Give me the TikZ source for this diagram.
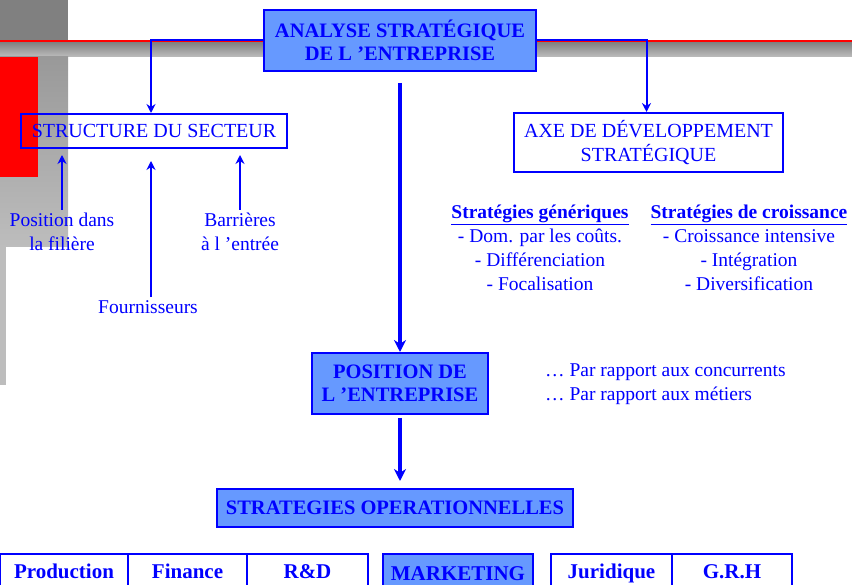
\documentclass[tikz,border=0pt]{standalone}
\usepackage{fontspec}
\setmainfont{Liberation Serif}
\usepackage{xcolor}
\definecolor{linkblue}{HTML}{0000FF}
\definecolor{boxfill}{HTML}{6699FF}
\definecolor{barred}{HTML}{FF0000}
\definecolor{bardark}{HTML}{808080}
\definecolor{barmid}{HTML}{999999}
\definecolor{barlight}{HTML}{BDBDBD}
\usepackage{tikz}
\usetikzlibrary{positioning,arrows.meta}
\tikzset{
    mainbox/.style={
        rectangle,
        draw=linkblue,
        fill=boxfill,
        text=linkblue,
        font=\bfseries\fontsize{20.5}{23.5}\selectfont,
        align=center,
        line width=2pt,
        inner sep=0pt,
    },
    framebox/.style={
        rectangle,
        draw=linkblue,
        text=linkblue,
        font=\fontsize{20}{24}\selectfont,
        align=center,
        line width=2pt,
        inner sep=0pt,
    },
    tabbox/.style={
        framebox,
        font=\bfseries\fontsize{21}{24}\selectfont,
        minimum height=40pt,
        text height=14pt,
        text depth=5pt,
    },
    note/.style={
        text=linkblue,
        font=\fontsize{19.5}{24}\selectfont,
        align=center,
        inner xsep=0pt,
        inner ysep=3pt,
    },
    arrow/.style={
        -{Stealth[length=9pt,width=9pt]},
        line width=2pt,
        linkblue,
    },
    bigarrow/.style={
        -{Stealth[length=12pt,width=12pt]},
        line width=4pt,
        linkblue,
    },
}

\begin{document}
\begin{tikzpicture}[x=1pt,y=-1pt]
    \path[use as bounding box, clip] (0,0) rectangle (852,585);

    % decoration in the corner
    \fill[bardark] (0,0) rectangle (68,42);
    \shade[top color=bardark, bottom color=barlight] (0,42) rectangle (852,57);
    \fill[barred] (0,40) rectangle (852,42.5);
    \shade[top color=barmid, bottom color=barlight] (0,57) rectangle (68,247);
    \fill[barlight] (0,247) rectangle (6,385);
    \fill[barred] (0,57) rectangle (38,177);

    % main boxes
    \node[mainbox, minimum width=272pt, minimum height=61pt] (analyse) at (400,40.5)
        {ANALYSE STRATÉGIQUE\\DE L ’ENTREPRISE};
    \node[framebox, minimum width=266pt, minimum height=34pt] (structure) at (154,131)
        {STRUCTURE DU SECTEUR};
    \node[framebox, minimum width=269pt, minimum height=59pt] (axe) at (648.5,142.5)
        {AXE DE DÉVELOPPEMENT\\STRATÉGIQUE};
    \node[mainbox, minimum width=176pt, minimum height=61pt] (position) at (400,383.5)
        {POSITION DE\\L ’ENTREPRISE};
    \node[mainbox, minimum width=356pt, minimum height=38pt] (operation) at (395,508)
        {STRATEGIES OPERATIONNELLES};

    % labels round the sector
    \node[note] (filiere) at (62,232) {Position dans\\la filière};
    \node[note] (fourn) at (148,307) {Fournisseurs};
    \node[note] (barriere) at (240,232) {Barrières\\à l ’entrée};

    % strategies
    \node[note, inner ysep=0pt] (generic) at (540,248)
        {\textbf{\underline{Stratégies génériques}}\\- Dom. par les coûts.\\- Différenciation\\- Focalisation};
    \node[note, inner ysep=0pt] (growth) at (749,248)
        {\textbf{\underline{Stratégies de croissance}}\\- Croissance intensive\\- Intégration\\- Diversification};
    \node[note, align=left, inner sep=0pt, anchor=west] (compare) at (545,384)
        {… Par rapport aux concurrents\\… Par rapport aux métiers};

    % functions
    \node[tabbox, minimum width=128pt] (prod) at (64,574) {Production};
    \node[tabbox, minimum width=119pt] (fin) at (187.5,574) {Finance};
    \node[tabbox, minimum width=121pt] (rd) at (307.5,574) {R\&D};
    \node[tabbox, fill=boxfill, minimum width=150pt, text height=16pt, text depth=3pt] (mkt) at (458,574) {MARKETING};
    \node[tabbox, minimum width=121pt] (jur) at (611.5,574) {Juridique};
    \node[tabbox, minimum width=120pt] (grh) at (732,574) {G.R.H};

    % connectors
    \draw[arrow] (analyse.west) -| ([xshift=-3pt]structure.north);
    \draw[arrow] (analyse.east) -| ([xshift=-2pt]axe.north);
    \draw[bigarrow] ([yshift=-11pt]analyse.south) -- (position.north);
    \draw[bigarrow] ([yshift=-3pt]position.south) -- ([yshift=7pt]position.south |- operation.north);
    \draw[arrow, shorten >=6pt] (filiere.north) -- (filiere.north |- structure.south);
    \draw[arrow, shorten >=6pt] (fourn.north -| structure.north) ++(-3,0) -- ([xshift=-3pt,yshift=-6pt]structure.south);
    \draw[arrow, shorten >=6pt] (barriere.north) -- (barriere.north |- structure.south);
\end{tikzpicture}
\end{document}
